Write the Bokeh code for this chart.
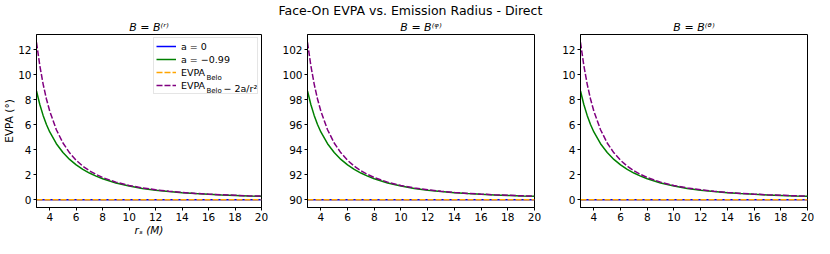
from bokeh.plotting import figure
from bokeh.models import Range1d, FixedTicker, Label, Legend, LegendItem, Title
from bokeh.layouts import row
from bokeh.embed import file_html
from bokeh.resources import INLINE

# ---------------- data ----------------
r_s = [3, 3.25, 3.5, 3.75, 4, 4.5, 5, 5.5, 6, 6.5, 7, 7.5, 8,
       9, 10, 11, 12, 13, 14, 15, 16, 17, 18, 19, 20]

# B = B^(r) and B = B^(theta) panels (identical)
evpa_a0 = [0, 0, 0, 0, 0, 0, 0, 0, 0, 0, 0, 0, 0,
           0, 0, 0, 0, 0, 0, 0, 0, 0, 0, 0, 0]
evpa_a099 = [8.70, 7.62, 6.75, 6.02, 5.42, 4.48, 3.78, 3.22, 2.78, 2.42, 2.13, 1.88, 1.67,
             1.34, 1.09, 0.90, 0.76, 0.65, 0.56, 0.49, 0.43, 0.38, 0.34, 0.30, 0.27]
evpa_belo = [0, 0, 0, 0, 0, 0, 0, 0, 0, 0, 0, 0, 0,
             0, 0, 0, 0, 0, 0, 0, 0, 0, 0, 0, 0]
evpa_belo_corr = [12.60, 10.74, 9.26, 8.06, 7.09, 5.60, 4.54, 3.75, 3.15, 2.68, 2.31, 2.02, 1.77,
                  1.40, 1.13, 0.94, 0.79, 0.67, 0.58, 0.50, 0.44, 0.39, 0.35, 0.31, 0.28]

# B = B^(phi) panel
evpa_phi_a0 = [90, 90, 90, 90, 90, 90, 90, 90, 90, 90, 90, 90, 90,
               90, 90, 90, 90, 90, 90, 90, 90, 90, 90, 90, 90]
evpa_phi_a099 = [98.70, 97.62, 96.75, 96.02, 95.42, 94.48, 93.78, 93.22, 92.78, 92.42, 92.13, 91.88, 91.67,
                 91.34, 91.09, 90.90, 90.76, 90.65, 90.56, 90.49, 90.43, 90.38, 90.34, 90.30, 90.27]
evpa_phi_belo = [90, 90, 90, 90, 90, 90, 90, 90, 90, 90, 90, 90, 90,
                 90, 90, 90, 90, 90, 90, 90, 90, 90, 90, 90, 90]
evpa_phi_belo_corr = [102.60, 100.74, 99.26, 98.06, 97.09, 95.60, 94.54, 93.75, 93.15, 92.68, 92.31, 92.02, 91.77,
                      91.40, 91.13, 90.94, 90.79, 90.67, 90.58, 90.50, 90.44, 90.39, 90.35, 90.31, 90.28]

x_ticks = [4, 6, 8, 10, 12, 14, 16, 18, 20]
y_ticks_r = [0, 2, 4, 6, 8, 10, 12]
y_ticks_phi = [90, 92, 94, 96, 98, 100, 102]

panel_titles = ["B = B⁽ʳ⁾", "B = B⁽ᵠ⁾", "B = B⁽ᶿ⁾"]
suptitle = "Face-On EVPA vs. Emission Radius - Direct"
legend_labels = ["a = 0", "a = −0.99", "EVPA", "EVPA"]

FONT = "DejaVu Sans"
H = 238
TOP = 32
BOTTOM = 28


def sub_title(text):
    return Title(text=text, align="center", text_font=FONT, text_font_size="11px",
                 text_font_style="italic", text_color="black", standoff=2)


def make_fig(width, left, right, yr, yticks, a0, a099, belo, corr):
    p = figure(width=width, height=H, x_range=Range1d(3, 20), y_range=Range1d(*yr),
               output_backend="svg", toolbar_location=None,
               min_border_left=left, min_border_right=right,
               min_border_top=TOP, min_border_bottom=BOTTOM)
    p.background_fill_color = "white"
    p.border_fill_color = "white"
    p.outline_line_color = "black"
    p.outline_line_width = 1
    p.xgrid.visible = False
    p.ygrid.visible = False
    p.xaxis.ticker = FixedTicker(ticks=x_ticks)
    p.yaxis.ticker = FixedTicker(ticks=yticks)
    for ax in (p.xaxis[0], p.yaxis[0]):
        ax.axis_line_color = "black"
        ax.major_tick_line_color = "black"
        ax.major_tick_out = 3
        ax.major_tick_in = 0
        ax.minor_tick_line_color = None
        ax.major_label_text_font = FONT
        ax.major_label_text_font_size = "10.5px"
        ax.major_label_text_color = "black"
        ax.major_label_standoff = 2
        ax.axis_label_text_font = FONT
        ax.axis_label_text_font_size = "10.5px"
        ax.axis_label_text_color = "black"
        ax.axis_label_standoff = 0

    rb = p.line(r_s, a0, line_color="blue", line_width=1.5)
    rg = p.line(r_s, a099, line_color="green", line_width=1.5)
    ro = p.line(r_s, belo, line_color="orange", line_width=1.5, line_dash="6 2")
    rp = p.line(r_s, corr, line_color="purple", line_width=1.5, line_dash="6 2")
    return p, (rb, rg, ro, rp)


W = 227
p1, rs1 = make_fig(34 + W + 16, 34, 16, (-0.63, 13.23), y_ticks_r,
                   evpa_a0, evpa_a099, evpa_belo, evpa_belo_corr)
p2, rs2 = make_fig(30 + W + 16, 30, 16, (89.37, 103.23), y_ticks_phi,
                   evpa_phi_a0, evpa_phi_a099, evpa_phi_belo, evpa_phi_belo_corr)
p3, rs3 = make_fig(30 + W + 7, 30, 7, (-0.63, 13.23), y_ticks_r,
                   evpa_a0, evpa_a099, evpa_belo, evpa_belo_corr)

p1.title = sub_title(panel_titles[0])
p3.title = sub_title(panel_titles[2])
# middle panel: figure suptitle outermost, panel title inside it
p2.title = Title(text=suptitle, align="left", offset=-29, standoff=0, text_font=FONT,
                 text_font_size="12.5px", text_font_style="normal", text_color="black")
p2.add_layout(sub_title(panel_titles[1]), "above")

p1.xaxis.axis_label = "rₛ (M)"
p1.xaxis.axis_label_text_font_style = "italic"
p1.yaxis.axis_label = "EVPA (°)"
p1.yaxis.axis_label_text_font_style = "normal"

legend = Legend(items=[LegendItem(label=lab, renderers=[r]) for lab, r in zip(legend_labels, rs1)],
                location="top_right", margin=3, padding=2, spacing=1,
                glyph_width=20, glyph_height=12, label_height=12, label_standoff=5,
                label_width=74, label_text_font=FONT, label_text_font_size="9.5px",
                label_text_color="black", border_line_color="#cccccc", border_line_width=1,
                background_fill_color="white", background_fill_alpha=0.0)
p1.add_layout(legend)

# subscripts / extensions of the legend labels (the legend box is transparent)
for i, extra in ((2, None), (3, "− 2a/r²")):
    yc = 15 + 13 * i
    p1.add_layout(Label(x=20, y=13.23, x_offset=-55, y_offset=-(yc + 2), text="Belo",
                        text_baseline="middle", text_font=FONT, text_font_size="7px",
                        text_color="black"))
    if extra:
        p1.add_layout(Label(x=20, y=13.23, x_offset=-38, y_offset=-yc, text=extra,
                            text_baseline="middle", text_font=FONT, text_font_size="9.5px",
                            text_color="black"))

layout = row(p1, p2, p3)
open("out.html", "w").write(file_html(layout, INLINE))
